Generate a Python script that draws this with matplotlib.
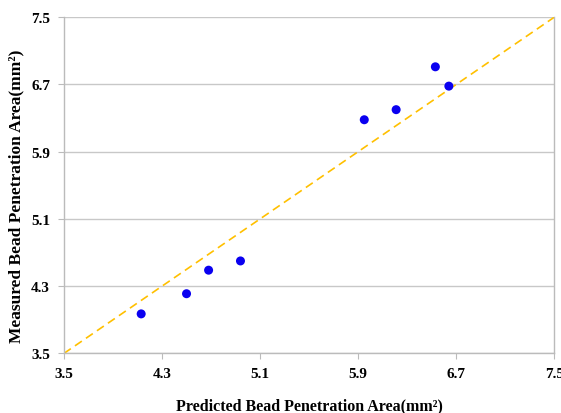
import matplotlib
matplotlib.use("Agg")
import matplotlib.pyplot as plt
import numpy as np

predicted = [4.13, 4.50, 4.68, 4.94, 5.95, 6.21, 6.53, 6.64]
measured = [3.97, 4.21, 4.49, 4.60, 6.28, 6.40, 6.91, 6.68]
ticks = [3.5, 4.3, 5.1, 5.9, 6.7, 7.5]

plt.rcParams["font.family"] = ["Liberation Serif", "DejaVu Serif"]

fig = plt.figure(figsize=(5.61, 4.14), dpi=100)
ax = fig.add_axes([0.114, 0.144, 0.874, 0.812])

ax.plot([3.5, 7.5], [3.5, 7.5], linestyle=(0, (5, 3)), color="#FFC000",
        linewidth=1.2, zorder=2)
ax.scatter(predicted, measured, s=42, color="#0A00F0", zorder=3,
           edgecolors="none")

ax.set_xlim(3.5, 7.5)
ax.set_ylim(3.5, 7.5)
ax.set_xticks(ticks)
ax.set_yticks(ticks)
ax.set_xticklabels([f"{t:.1f}" for t in ticks], fontweight="bold", fontsize=11)
ax.set_yticklabels([f"{t:.1f}" for t in ticks], fontweight="bold", fontsize=11)

ax.yaxis.grid(True, color="#C8C8C8", linewidth=1.0, zorder=0)
ax.set_axisbelow(True)
for side in ["left", "right", "bottom"]:
    ax.spines[side].set_color("#BBBBBB")
    ax.spines[side].set_linewidth(1.0)
ax.spines["top"].set_visible(False)
ax.tick_params(axis="both", direction="out", length=4, color="#BBBBBB", pad=6)

ax.set_xlabel("Predicted Bead Penetration Area(mm\u00b2)",
              fontweight="bold", fontsize=11.5, labelpad=12)
ax.set_ylabel("Measured Bead Penetration Area(mm\u00b2)",
              fontweight="bold", fontsize=12.5)
ax.yaxis.set_label_coords(-0.08, 0.47)

fig.savefig("out.png", dpi=100)
